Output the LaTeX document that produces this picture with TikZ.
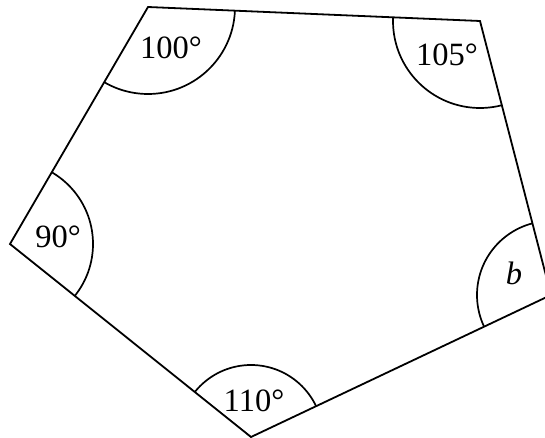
\documentclass[tikz,border=0pt]{standalone}
\usepackage{fontspec}
\setmainfont{Liberation Serif}
\begin{document}
\begin{tikzpicture}[x=1pt,y=-1pt,
  edge/.style={line width=1.8pt,line join=miter},
  arcline/.style={line width=1.7pt},
  lbl/.style={inner sep=0pt,font=\fontsize{32.5}{38}\selectfont}]
\useasboundingbox (0,0) rectangle (545,438);
\clip (0,0) rectangle (545,438);
\coordinate (A) at (148,7);
\coordinate (B) at (480,21);
\coordinate (C) at (551,295);
\coordinate (D) at (251,437);
\coordinate (E) at (10,244);
\begin{scope}
  \clip (A) -- (B) -- (C) -- (D) -- (E) -- cycle;
  \draw[arcline] (A) circle (87pt);
  \draw[arcline] (B) circle (87pt);
  \draw[arcline] (C) circle (74pt);
  \draw[arcline] (D) circle (72pt);
  \draw[arcline] (E) circle (83pt);
\end{scope}
\draw[edge] (A) -- (B) -- (C) -- (D) -- (E) -- cycle;
\node[lbl] (la) at (171,48) {100°};
\node[lbl] (lb) at (447,55) {105°};
\node[lbl] (lc) at (514,273) {\textit{b}};
\node[lbl] (ld) at (254,401) {110°};
\node[lbl] (le) at (58,237) {90°};
\end{tikzpicture}
\end{document}
